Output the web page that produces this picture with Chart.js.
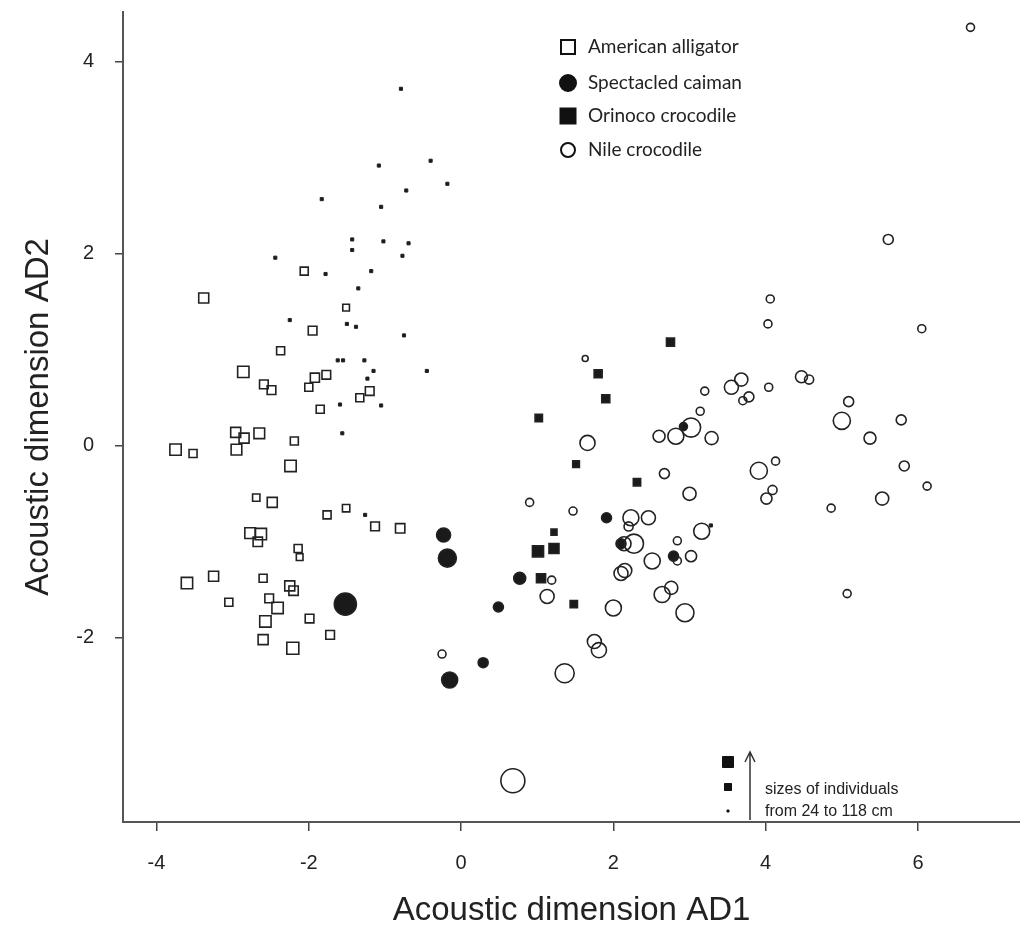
<!DOCTYPE html>
<html>
<head>
<meta charset="utf-8">
<script src="https://cdn.jsdelivr.net/npm/chart.js@4.4.0/dist/chart.umd.min.js"></script>
<style>
  html, body { margin: 0; padding: 0; background: #fff; }
</style>
</head>
<body>
<canvas id="myChart" width="1020" height="927"></canvas>
<script>
// species names, in legend order
const speciesNames = ['American alligator', 'Spectacled caiman', 'Orinoco crocodile', 'Nile crocodile'];

// tick values
const xTicks = [-4, -2, 0, 2, 4, 6];
const yTicks = [-2, 0, 2, 4];

// American alligator (AD1, AD2, body length cm)
const alligatorX = [-0.79, -1.08, -0.72, -1.83, -1.05, -1.43, -1.02, -0.69, -1.43, -0.77, -2.44, -1.78, -1.18, -1.35, -0.40,
    -0.18, -2.25, -1.50, -1.38, -0.75, -1.62, -1.55, -1.27, -1.15, -1.23, -1.59, -1.05, -1.56, -1.26, -0.45,
    -2.06, -3.38, -1.51, -1.95, -2.37, -2.86, -1.92, -1.77, -2.59, -2.49, -2.00, -1.20, -1.33, -1.85, -2.96,
    -2.85, -2.65, -3.75, -3.52, -2.95, -2.19, -2.24, -2.69, -2.48, -1.76, -1.51, -1.13, -0.80, -2.77, -2.63,
    -2.67, -2.14, -2.12, -3.60, -3.25, -2.60, -2.25, -2.20, -3.05, -2.52, -2.41, -2.57, -1.99, -2.60, -2.21, -1.72];
const alligatorY = [3.72, 2.92, 2.66, 2.57, 2.49, 2.15, 2.13, 2.11, 2.04, 1.98, 1.96, 1.79, 1.82, 1.64, 2.97,
    2.73, 1.31, 1.27, 1.24, 1.15, 0.89, 0.89, 0.89, 0.78, 0.70, 0.43, 0.42, 0.13, -0.72, 0.78,
    1.82, 1.54, 1.44, 1.20, 0.99, 0.77, 0.71, 0.74, 0.64, 0.58, 0.61, 0.57, 0.50, 0.38, 0.14,
    0.08, 0.13, -0.04, -0.08, -0.04, 0.05, -0.21, -0.54, -0.59, -0.72, -0.65, -0.84, -0.86, -0.91, -0.92,
    -1.00, -1.07, -1.16, -1.43, -1.36, -1.38, -1.46, -1.51, -1.63, -1.59, -1.69, -1.83, -1.80, -2.02, -2.11, -1.97];
const alligatorLen = [24, 24, 24, 24, 24, 24, 24, 24, 24, 24, 24, 24, 24, 24, 24,
    24, 24, 24, 24, 24, 24, 24, 24, 24, 24, 24, 24, 24, 24, 24,
    46, 55, 40, 49, 46, 61, 51, 49, 49, 49, 46, 49, 46, 46, 55,
    55, 58, 61, 46, 58, 46, 61, 43, 55, 46, 43, 49, 52, 58, 61,
    52, 46, 40, 61, 55, 46, 55, 52, 46, 49, 61, 61, 49, 55, 64, 49];

// Spectacled caiman
const caimanX = [-0.23, -0.18, -1.52, -0.15, 0.29, 0.49, 0.77, 1.91, 2.10, 2.79, 2.92];
const caimanY = [-0.93, -1.17, -1.65, -2.44, -2.26, -1.68, -1.38, -0.75, -1.02, -1.15, 0.20];
const caimanLen = [73, 91, 109, 82, 55, 55, 64, 55, 55, 55, 46];

// Orinoco crocodile
const orinocoX = [2.75, 1.80, 1.90, 1.02, 1.51, 2.31, 1.22, 1.01, 1.22, 1.05, 1.48, 3.28];
const orinocoY = [1.08, 0.75, 0.49, 0.29, -0.19, -0.38, -0.90, -1.10, -1.07, -1.38, -1.65, -0.83];
const orinocoLen = [46, 46, 46, 43, 40, 43, 37, 60, 55, 51, 43, 24];

// Nile crocodile
const nileX = [6.69, 5.61, 4.06, 4.03, 6.05, 1.63, 3.68, 3.55, 4.04, 3.78, 3.70, 3.20, 3.14, 4.47, 4.57,
    3.02, 2.82, 2.60, 3.29, 1.66, 5.09, 5.00, 5.78, 5.37, 3.91, 4.13, 2.67, 3.00, 4.09, 4.01,
    5.82, 6.12, 5.53, 4.86, 5.07, 0.90, 1.47, 2.23, 2.46, 3.16, 2.20, 2.14, 2.27, 2.84, 2.84,
    3.02, 2.51, 2.10, 2.15, 1.19, 1.13, 2.00, 2.76, 2.64, 2.94, 1.75, 1.81, 1.36, -0.25, 0.68];
const nileY = [4.36, 2.15, 1.53, 1.27, 1.22, 0.91, 0.69, 0.61, 0.61, 0.51, 0.47, 0.57, 0.36, 0.72, 0.69,
    0.19, 0.10, 0.10, 0.08, 0.03, 0.46, 0.26, 0.27, 0.08, -0.26, -0.16, -0.29, -0.50, -0.46, -0.55,
    -0.21, -0.42, -0.55, -0.65, -1.54, -0.59, -0.68, -0.75, -0.75, -0.89, -0.84, -1.02, -1.02, -0.99, -1.20,
    -1.15, -1.20, -1.33, -1.30, -1.40, -1.57, -1.69, -1.48, -1.55, -1.74, -2.04, -2.13, -2.37, -2.17, -3.49];
const nileLen = [46, 55, 46, 46, 46, 37, 69, 73, 46, 55, 46, 46, 46, 64, 51,
    96, 82, 64, 69, 78, 55, 87, 55, 64, 87, 46, 55, 69, 51, 60,
    55, 46, 69, 46, 46, 46, 46, 82, 73, 82, 51, 73, 96, 46, 46,
    60, 82, 73, 73, 46, 73, 82, 69, 82, 91, 73, 78, 96, 46, 118];

// body length -> half size of marker in px
function halfSize(len) {
    return (len - 10) / 9;
}

function makeDataset(label, xs, ys, lens, style, filled) {
    let radius = ctx => {
        let hs = halfSize(lens[ctx.dataIndex]);
        return style === 'rect' ? hs * Math.SQRT2 : hs;
    };
    return {
        label: label,
        data: xs.map((x, i) => ({ x: x, y: ys[i] })),
        pointStyle: style,
        pointRadius: radius,
        pointHoverRadius: radius,
        // tiny open markers look filled in the original
        backgroundColor: ctx => (filled || halfSize(lens[ctx.dataIndex]) < 2.5) ? '#1a1a1a' : 'rgba(0,0,0,0)',
        borderColor: '#222',
        borderWidth: ctx => halfSize(lens[ctx.dataIndex]) < 2.5 ? 1 : 1.6,
        showLine: false
    };
}

const keyPlugin = {
    id: 'keys',
    afterDraw(chart) {
        const ctx = chart.ctx;
        const helpers = Chart.helpers;
        ctx.save();

        // species legend
        const legendIcons = [
            { style: 'rect', radius: 7 * Math.SQRT2, filled: false },
            { style: 'circle', radius: 8, filled: true },
            { style: 'rect', radius: 7.5 * Math.SQRT2, filled: true },
            { style: 'circle', radius: 7, filled: false }
        ];
        const legendY = [47, 83, 116, 150];
        ctx.font = '19px Lato';
        ctx.textBaseline = 'middle';
        ctx.textAlign = 'left';
        speciesNames.forEach((name, i) => {
            let icon = legendIcons[i];
            ctx.fillStyle = icon.filled ? '#111' : '#fff';
            ctx.strokeStyle = '#111';
            ctx.lineWidth = 2;
            helpers.drawPoint(ctx, { pointStyle: icon.style, radius: icon.radius, borderWidth: 2, rotation: 0 }, 568, legendY[i]);
            ctx.fillStyle = '#222';
            ctx.fillText(name, 588, legendY[i]);
        });

        // size key
        const keyY = [762, 787, 811];
        const keyHalf = [5.5, 3.5, 1];
        ctx.fillStyle = '#111';
        ctx.strokeStyle = '#111';
        ctx.lineWidth = 1;
        keyY.forEach((y, i) => {
            helpers.drawPoint(ctx, { pointStyle: 'rect', radius: keyHalf[i] * Math.SQRT2, borderWidth: 1, rotation: 0 }, 728, y);
        });
        ctx.strokeStyle = '#333';
        ctx.lineWidth = 1.5;
        ctx.beginPath();
        ctx.moveTo(750, 820);
        ctx.lineTo(750, 752);
        ctx.moveTo(745, 762);
        ctx.lineTo(750, 752);
        ctx.lineTo(755, 762);
        ctx.stroke();
        ctx.fillStyle = '#222';
        ctx.font = '16px "Liberation Sans"';
        ctx.fillText('sizes of individuals', 765, 790);
        ctx.fillText('from 24 to 118 cm', 765, 812);

        ctx.restore();
    }
};

const ctx = document.getElementById('myChart').getContext('2d');

let myChart = new Chart(ctx, {
    type: 'scatter',
    data: {
        datasets: [
            makeDataset(speciesNames[0], alligatorX, alligatorY, alligatorLen, 'rect', false),
            makeDataset(speciesNames[3], nileX, nileY, nileLen, 'circle', false),
            makeDataset(speciesNames[2], orinocoX, orinocoY, orinocoLen, 'rect', true),
            makeDataset(speciesNames[1], caimanX, caimanY, caimanLen, 'circle', true)
        ]
    },
    options: {
        responsive: false,
        devicePixelRatio: 1,
        animation: false,
        layout: { autoPadding: false, padding: { top: 12, right: 0, bottom: 0, left: 0 } },
        plugins: {
            legend: { display: false },
            tooltip: { enabled: false }
        },
        scales: {
            x: {
                type: 'linear',
                min: -4.44,
                max: 7.34,
                afterBuildTicks: scale => { scale.ticks = xTicks.map(v => ({ value: v })); },
                afterFit: scale => {
                    scale.height = 105;
                    scale.paddingLeft = 0;
                    scale.paddingRight = 0;
                },
                grid: { drawOnChartArea: false, drawTicks: true, tickLength: 9, color: '#444', lineWidth: 1.5 },
                border: { display: true, color: '#555', width: 2 },
                ticks: {
                    font: { family: 'Liberation Sans', size: 20 },
                    color: '#222',
                    padding: 20,
                    maxRotation: 0
                },
                title: {
                    display: true,
                    text: 'Acoustic dimension AD1',
                    font: { family: 'Liberation Sans', size: 33, lineHeight: 1 },
                    color: '#222',
                    padding: { top: 0, bottom: 0 }
                }
            },
            y: {
                type: 'linear',
                min: -3.92,
                max: 4.52,
                afterBuildTicks: scale => { scale.ticks = yTicks.map(v => ({ value: v })); },
                afterFit: scale => {
                    scale.width = 123;
                    scale.paddingTop = 0;
                    scale.paddingBottom = 0;
                },
                grid: { drawOnChartArea: false, drawTicks: true, tickLength: 8, color: '#444', lineWidth: 1.5 },
                border: { display: true, color: '#555', width: 2 },
                ticks: {
                    font: { family: 'Liberation Sans', size: 20 },
                    color: '#222',
                    padding: 21
                },
                title: {
                    display: true,
                    text: 'Acoustic dimension AD2',
                    font: { family: 'Liberation Sans', size: 33, lineHeight: 1 },
                    color: '#222',
                    padding: { top: 22, bottom: 0 }
                }
            }
        }
    },
    plugins: [keyPlugin]
});
</script>
</body>
</html>
